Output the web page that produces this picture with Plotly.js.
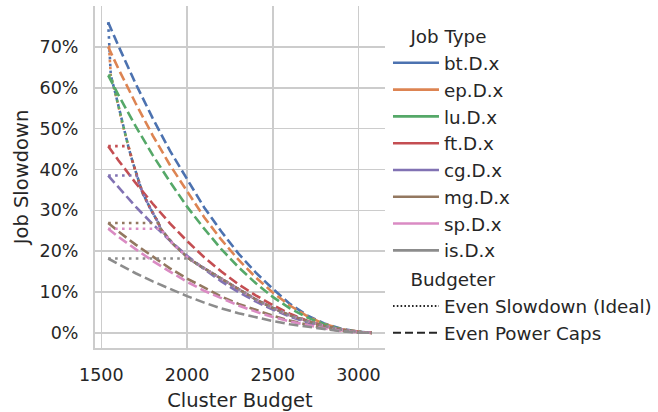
<!DOCTYPE html>
<html>
<head>
<meta charset="utf-8">
<script src="https://cdn.plot.ly/plotly-3.0.1.min.js"></script>
<style>html,body{margin:0;padding:0;background:#fff;}#chart{width:658px;height:412px;}</style>
</head>
<body>
<div id="chart"></div>
<script>
// ---- data ----
const jobTypes = ['bt.D.x', 'ep.D.x', 'lu.D.x', 'ft.D.x', 'cg.D.x', 'mg.D.x', 'sp.D.x', 'is.D.x'];
const budgeters = ['Even Slowdown (Ideal)', 'Even Power Caps'];

// Cluster budgets for the "Even Slowdown (Ideal)" series
const budgetsIdeal = [1540, 1545, 1555, 1580, 1600, 1620, 1657, 1680, 1706, 1740, 1784, 1833, 1845, 1880, 1920, 1960, 2010, 2080, 2150, 2200, 2300, 2400, 2500, 2600, 2700, 2800, 2900, 3000, 3078];
// Job slowdown (%) under even slowdown (ideal)
const idealBT = [76, 70, 63, 59, 55.5, 51.5, 45.7, 42.2, 38.5, 34.3, 30.6, 26.9, 25.5, 23.6, 21.7, 20.2, 18.2, 16.3, 14.5, 13.3, 10.6, 8.2, 6.1, 4.3, 2.9, 1.7, 0.8, 0.2, 0];
const idealEP = [70, 70, 63, 59, 55.5, 51.5, 45.7, 42.2, 38.5, 34.3, 30.6, 26.9, 25.5, 23.6, 21.7, 20.2, 18.2, 16.3, 14.5, 13.3, 10.6, 8.2, 6.1, 4.3, 2.9, 1.7, 0.8, 0.2, 0];
const idealLU = [63, 63, 63, 59, 55.5, 51.5, 45.7, 42.2, 38.5, 34.3, 30.6, 26.9, 25.5, 23.6, 21.7, 20.2, 18.2, 16.3, 14.5, 13.3, 10.6, 8.2, 6.1, 4.3, 2.9, 1.7, 0.8, 0.2, 0];
const idealFT = [45.7, 45.7, 45.7, 45.7, 45.7, 45.7, 45.7, 42.2, 38.5, 34.3, 30.6, 26.9, 25.5, 23.6, 21.7, 20.2, 18.2, 16.3, 14.5, 13.3, 10.6, 8.2, 6.1, 4.3, 2.9, 1.7, 0.8, 0.2, 0];
const idealCG = [38.5, 38.5, 38.5, 38.5, 38.5, 38.5, 38.5, 38.5, 38.5, 34.3, 30.6, 26.9, 25.5, 23.6, 21.7, 20.2, 18.2, 16.3, 14.5, 13.3, 10.6, 8.2, 6.1, 4.3, 2.9, 1.7, 0.8, 0.2, 0];
const idealMG = [26.9, 26.9, 26.9, 26.9, 26.9, 26.9, 26.9, 26.9, 26.9, 26.9, 26.9, 26.9, 25.5, 23.6, 21.7, 20.2, 18.2, 16.3, 14.5, 13.3, 10.6, 8.2, 6.1, 4.3, 2.9, 1.7, 0.8, 0.2, 0];
const idealSP = [25.5, 25.5, 25.5, 25.5, 25.5, 25.5, 25.5, 25.5, 25.5, 25.5, 25.5, 25.5, 25.5, 23.6, 21.7, 20.2, 18.2, 16.3, 14.5, 13.3, 10.6, 8.2, 6.1, 4.3, 2.9, 1.7, 0.8, 0.2, 0];
const idealIS = [18.2, 18.2, 18.2, 18.2, 18.2, 18.2, 18.2, 18.2, 18.2, 18.2, 18.2, 18.2, 18.2, 18.2, 18.2, 18.2, 18.2, 16.3, 14.5, 13.3, 10.6, 8.2, 6.1, 4.3, 2.9, 1.7, 0.8, 0.2, 0];

// Cluster budgets for the "Even Power Caps" series
const budgetsCaps = [1540, 1600, 1700, 1800, 1900, 2000, 2100, 2200, 2300, 2400, 2500, 2600, 2700, 2800, 2900, 3000, 3078];
// Job slowdown (%) under even power caps
const capsBT = [76, 70.2, 61.0, 52.5, 44.6, 37.6, 30.7, 24.8, 19.4, 14.8, 10.8, 7.1, 4.3, 2.3, 1.0, 0.3, 0];
const capsEP = [70, 64.6, 56.2, 48.3, 41.1, 34.6, 28.3, 22.8, 17.9, 13.6, 9.9, 6.7, 4.1, 2.2, 0.9, 0.3, 0];
const capsLU = [63, 58.2, 50.6, 43.5, 37.0, 30.9, 25.5, 20.5, 16.1, 12.2, 8.8, 6.0, 3.8, 2.1, 0.9, 0.2, 0];
const capsFT = [45.7, 42.2, 36.7, 31.6, 26.8, 22.5, 18.5, 15.0, 11.9, 9.2, 6.8, 4.7, 3.0, 1.7, 0.7, 0.2, 0];
const capsCG = [38.5, 35.6, 30.9, 26.6, 22.6, 18.9, 15.6, 12.6, 10.0, 7.7, 5.7, 4.0, 2.6, 1.5, 0.6, 0.2, 0];
const capsMG = [26.9, 24.8, 21.6, 18.6, 15.8, 13.3, 11.0, 8.9, 7.1, 5.6, 4.2, 3.0, 2.0, 1.2, 0.5, 0.1, 0];
const capsSP = [25.5, 23.5, 20.5, 17.6, 15.0, 12.5, 10.3, 8.4, 6.7, 5.2, 3.9, 2.8, 1.9, 1.1, 0.5, 0.1, 0];
const capsIS = [18.2, 16.8, 14.6, 12.6, 10.7, 9.0, 7.4, 6.0, 4.8, 3.8, 2.9, 2.1, 1.5, 0.9, 0.4, 0.1, 0];

const yTicks = [0, 10, 20, 30, 40, 50, 60, 70];
const xTicks = [1500, 2000, 2500, 3000];

// ---- styling ----
const colors = ['#4C72B0', '#DD8452', '#55A868', '#C44E52', '#8172B3', '#937860', '#DA8BC3', '#8C8C8C'];
const idealSeries = [idealBT, idealEP, idealLU, idealFT, idealCG, idealMG, idealSP, idealIS];
const capsSeries = [capsBT, capsEP, capsLU, capsFT, capsCG, capsMG, capsSP, capsIS];
const LW = 2.6;
const DOT = '2.6px,4.3px';
const DASH = '9.6px,4.2px';
const FONT = 'DejaVu Sans';
const TXT = '#262626';
const LEGFS = 18.3;
const INDENT = '\u00A0\u00A0\u00A0';

const traces = [];
// legend entries: job types
jobTypes.forEach((name, i) => {
  traces.push({
    x: [null], y: [null], type: 'scatter', mode: 'lines', name: name,
    line: {color: colors[i], width: LW},
    legendgroup: 'job', legendgrouptitle: {text: INDENT + 'Job Type', font: {family: FONT, size: LEGFS, color: TXT}},
    hoverinfo: 'skip'
  });
});
// legend entries: budgeters
[DOT, DASH].forEach((d, i) => {
  traces.push({
    x: [null], y: [null], type: 'scatter', mode: 'lines', name: budgeters[i],
    line: {color: '#262626', width: 2, dash: i === 0 ? '1.6px,2.2px' : '8px,4px'},
    legendgroup: 'budgeter', legendgrouptitle: {text: INDENT + 'Budgeter', font: {family: FONT, size: LEGFS, color: TXT}},
    hoverinfo: 'skip'
  });
});
// data lines
jobTypes.forEach((name, i) => {
  traces.push({
    x: budgetsCaps, y: capsSeries[i], type: 'scatter', mode: 'lines', showlegend: false,
    line: {color: colors[i], width: LW, dash: DASH}
  });
  traces.push({
    x: budgetsIdeal, y: idealSeries[i], type: 'scatter', mode: 'lines', showlegend: false,
    line: {color: colors[i], width: LW, dash: DOT}
  });
});

const layout = {
  width: 658, height: 412,
  margin: {l: 95, r: 273, t: 6, b: 64, autoexpand: false},
  paper_bgcolor: '#ffffff', plot_bgcolor: '#ffffff',
  font: {family: FONT, size: 17.5, color: TXT},
  showlegend: true,
  xaxis: {
    range: [1463, 3155], tickvals: xTicks, ticktext: xTicks.map(String),
    showgrid: true, gridcolor: '#cccccc', gridwidth: 1.6, zeroline: false,
    showline: true, linecolor: '#cccccc', linewidth: 2,
    ticks: 'outside', ticklen: 10, tickcolor: 'rgba(0,0,0,0)',
    tickfont: {family: FONT, size: 17.5, color: TXT},
    title: {text: 'Cluster Budget', font: {family: FONT, size: 19.5, color: TXT}, standoff: 9}
  },
  yaxis: {
    range: [-3.7, 80], tickvals: yTicks, ticktext: yTicks.map(v => v + '%'),
    showgrid: true, gridcolor: '#cccccc', gridwidth: 1.6, zeroline: false,
    showline: true, linecolor: '#cccccc', linewidth: 2,
    ticks: 'outside', ticklen: 11, tickcolor: 'rgba(0,0,0,0)',
    tickfont: {family: FONT, size: 17.5, color: TXT},
    title: {text: 'Job Slowdown', font: {family: FONT, size: 19.5, color: TXT}, standoff: 6}
  },
  legend: {
    x: 1.0103, xanchor: 'left', y: 0.966, yanchor: 'top',
    bgcolor: 'rgba(0,0,0,0)', borderwidth: 0,
    font: {family: FONT, size: LEGFS, color: TXT},
    tracegroupgap: 2, itemwidth: 46
  }
};

Plotly.newPlot('chart', traces, layout, {staticPlot: true, displayModeBar: false});
</script>
</body>
</html>
